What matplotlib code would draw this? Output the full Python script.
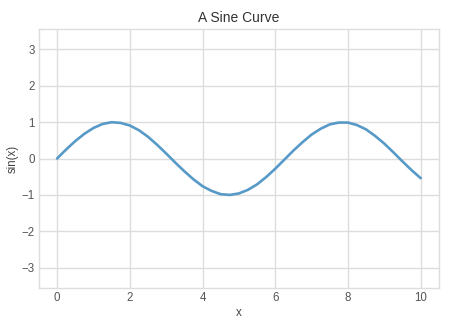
import numpy as np
import matplotlib
matplotlib.use("Agg")
import matplotlib.pyplot as plt

# values, x step 0.25
x_vals = [i * 0.25 for i in range(41)]
y_vals = [0.00, 0.25, 0.48, 0.68, 0.84, 0.95, 1.00, 0.98, 0.91, 0.78,
          0.60, 0.38, 0.14, -0.11, -0.35, -0.57, -0.76, -0.89, -0.98, -1.00,
          -0.96, -0.86, -0.71, -0.51, -0.28, -0.03, 0.22, 0.45, 0.66, 0.82,
          0.94, 0.99, 0.99, 0.92, 0.80, 0.62, 0.41, 0.17, -0.08, -0.32, -0.54]

x_ticks = [0, 2, 4, 6, 8, 10]
y_ticks = [-3, -2, -1, 0, 1, 2, 3]

plt.style.use('seaborn-v0_8-whitegrid')
plt.rcParams['font.family'] = ['Liberation Sans', 'DejaVu Sans']

fig = plt.figure(figsize=(4.52, 3.2), dpi=100)
ax = fig.add_axes([0.086, 0.1, 0.885, 0.809])
ax.plot(x_vals, y_vals, color='#5799c7', linewidth=1.9)

ax.set_xlim(-0.5, 10.5)
ax.set_ylim(-3.56, 3.56)
ax.set_xticks(x_ticks)
ax.set_yticks(y_ticks)
ax.tick_params(labelsize=8.3, colors='#555555', pad=3)
ax.grid(color='#dddddd', linewidth=1.0)
for s in ax.spines.values():
    s.set_visible(True)
    s.set_color('#dddddd')

ax.set_title('A Sine Curve', fontsize=10, color='#333333', pad=5)
ax.set_xlabel('x', fontsize=8.3, color='#444444', labelpad=2)
ax.set_ylabel('sin(x)', fontsize=8.3, color='#444444', labelpad=2)

fig.savefig('out.png', dpi=100)
